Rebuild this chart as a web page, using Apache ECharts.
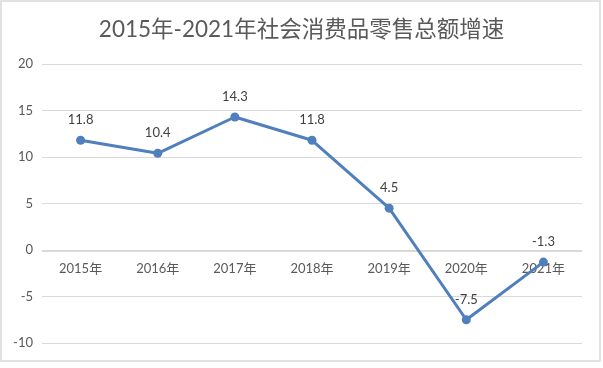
<!DOCTYPE html>
<html><head><meta charset="utf-8">
<script src="https://cdn.jsdelivr.net/npm/echarts@6/dist/echarts.min.js"></script>
<style>html,body{margin:0;padding:0;background:#fff}#c{width:603px;height:368px}</style>
</head><body><div id="c"></div>
<script>
const titleText = '2015年-2021年社会消费品零售总额增速';
const categories = ['2015年','2016年','2017年','2018年','2019年','2020年','2021年'];
const growth = [11.8, 10.4, 14.3, 11.8, 4.5, -7.5, -1.3];
const yTicks = {min: -10, max: 20, interval: 5};

const font = 'Lato, "Noto Sans CJK SC", sans-serif';
const chart = echarts.init(document.getElementById('c'), null, {renderer: 'canvas'});
chart.setOption({
  backgroundColor: '#fff',
  animation: false,
  graphic: [{type: 'rect', shape: {x: 1, y: 1, width: 599, height: 360},
    style: {fill: 'none', stroke: '#d9d9d9', lineWidth: 1.5}, silent: true}],
  title: {text: titleText, left: 'center', top: 13,
    textStyle: {fontFamily: font, fontSize: 22.5, fontWeight: 'normal', color: '#595959'}},
  grid: {left: 42, right: 21, top: 64, bottom: 25},
  xAxis: {type: 'category', data: categories, boundaryGap: true,
    offset: -92,
    axisLine: {onZero: false, lineStyle: {color: '#d9d9d9'}},
    axisTick: {show: false},
    axisLabel: {fontFamily: font, fontSize: 13, color: '#595959', margin: 11}},
  yAxis: {type: 'value', min: yTicks.min, max: yTicks.max, interval: yTicks.interval,
    axisLine: {show: false}, axisTick: {show: false},
    splitLine: {lineStyle: {color: '#d9d9d9', width: 1}},
    axisLabel: {fontFamily: font, fontSize: 13, color: '#595959', margin: 9}},
  series: [{type: 'line', data: growth, symbol: 'circle', symbolSize: 9,
    lineStyle: {color: '#4f7fbc', width: 3},
    itemStyle: {color: '#4f7fbc'},
    label: {show: true, position: 'top', distance: 9, fontFamily: font, fontSize: 13, color: '#404040'}}]
});
</script></body></html>
